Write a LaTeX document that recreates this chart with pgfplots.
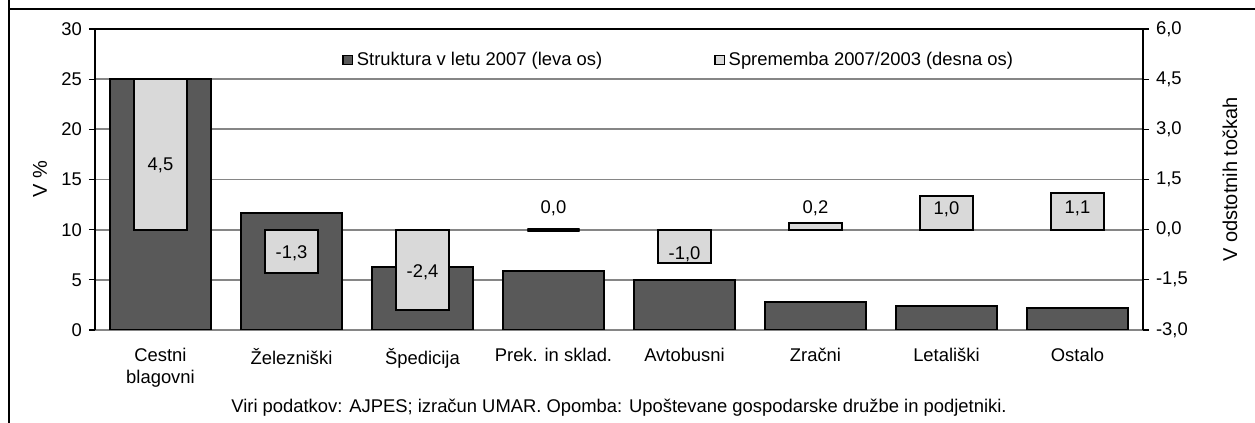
\documentclass[border=0pt]{standalone}
\usepackage{fontspec}
\setmainfont{Liberation Sans}
\usepackage{pgfplots}
\pgfplotsset{compat=1.18}
\usepackage{pgfplotstable}

\definecolor{darkbar}{HTML}{595959}
\definecolor{lightbar}{HTML}{D9D9D9}
\definecolor{gridc}{HTML}{868686}

\newcommand{\fs}{\fontsize{9.2}{11}\selectfont}

% struktura v letu 2007 (leva os, %)
\pgfplotstableread{
x y
0 25.0
1 11.7
2 6.3
3 5.9
4 5.0
5 2.8
6 2.4
7 2.2
}\struktura

% sprememba 2007/2003 (desna os, odstotne tocke)
\pgfplotstableread{
x y
0 4.5
1 -1.3
2 -2.4
3 0.0
4 -1.0
5 0.2
6 1.0
7 1.1
}\sprememba

\pgfplotsset{
  common/.style={
    scale only axis, width=524pt, height=150.5pt,
    xmin=-0.5, xmax=7.5,
    tick align=outside,
    major tick length=3pt,
    /pgf/number format/assume math mode=true,
    tick label style={font=\fs},
    label style={font=\fs},
  }
}

\begin{document}
\begin{tikzpicture}
\useasboundingbox (-47.5pt,-46.5pt) rectangle (580pt,165pt);

\begin{axis}[
  common,
  ymin=0, ymax=30, ytick={0,5,...,30},
  axis y line*=left, axis x line*=bottom,
  x axis line style={gridc, line width=0.9pt},
  y axis line style={black, line width=0.8pt},
  ymajorgrids, grid style={gridc, line width=0.9pt},
  xtick={0,...,7},
  xticklabels={{Cestni\\blagovni}, Železniški, Špedicija, {Prek. in sklad.}, Avtobusni, Zračni, Letališki, Ostalo},
  xticklabel style={align=center, yshift=-2.5pt},
  xtick style={draw=none},
  minor xtick={-0.5,0.5,...,7.5},
  minor tick length=3pt,
  minor x tick style={gridc, line width=0.6pt},
  ytick style={black, line width=0.6pt},
  every axis y label/.style={at={(rel axis cs:0,0.5)}, xshift=-27.5pt, rotate=90, anchor=center},
  ylabel={V \%},
]
\addplot[ybar, bar width=0.77, bar shift=0pt, fill=darkbar, draw=black, line width=0.9pt] table[x=x,y=y] {\struktura};
\end{axis}

\begin{axis}[
  common,
  ymin=-3, ymax=6, ytick={-3,-1.5,0,1.5,3,4.5,6},
  yticklabel style={/pgf/number format/.cd, fixed, fixed zerofill, precision=1, use comma},
  axis y line*=right, axis x line*=top,
  axis line style={black, line width=0.8pt},
  xtick=\empty,
  ytick style={black, line width=0.6pt},
  every axis y label/.style={at={(rel axis cs:1,0.5)}, xshift=43.5pt, rotate=90, anchor=center},
  ylabel={V odstotnih točkah},
  legend style={draw=none, fill=none, at={(rel axis cs:0.558,0.897)}, anchor=center,
    font=\fs, legend columns=2,
    /tikz/every even column/.append style={column sep=54pt},
    inner sep=0pt},
  legend image code/.code={\draw[#1, line width=0.6pt] (0pt,-2.4pt) rectangle (4.6pt,2.4pt);},
  legend cell align=left,
]
\addlegendimage{fill=darkbar, draw=black}
\addlegendentry{Struktura v letu 2007 (leva os)}
\addplot[ybar, bar width=0.40, bar shift=0pt, fill=lightbar, draw=black, line width=0.9pt] table[x=x,y=y] {\sprememba};
\addlegendentry{Sprememba 2007/2003 (desna os)}
% nicelna sprememba kot debela crta
\addplot[ybar, bar width=0.40, bar shift=0pt, draw=black, line width=2pt, forget plot] coordinates {(3,0)};
% oznake vrednosti
\node[font=\fs] at (axis cs:0,1.93) {4,5};
\node[font=\fs] at (axis cs:1,-0.72) {-1,3};
\node[font=\fs] at (axis cs:2,-1.26) {-2,4};
\node[font=\fs] at (axis cs:3,0.65) {0,0};
\node[font=\fs] at (axis cs:4,-0.73) {-1,0};
\node[font=\fs] at (axis cs:5,0.65) {0,2};
\node[font=\fs] at (axis cs:6,0.62) {1,0};
\node[font=\fs] at (axis cs:7,0.65) {1,1};
\end{axis}

\node[font=\fs] at (262pt,-39pt)
  {Viri podatkov: AJPES; izračun UMAR. Opomba: Upoštevane gospodarske družbe in podjetniki.};
\draw[line width=1pt] (-43pt,165pt) -- (-43pt,-46.5pt);
\draw[line width=1pt] (-43pt,160.5pt) -- (580pt,160.5pt);
\end{tikzpicture}
\end{document}
